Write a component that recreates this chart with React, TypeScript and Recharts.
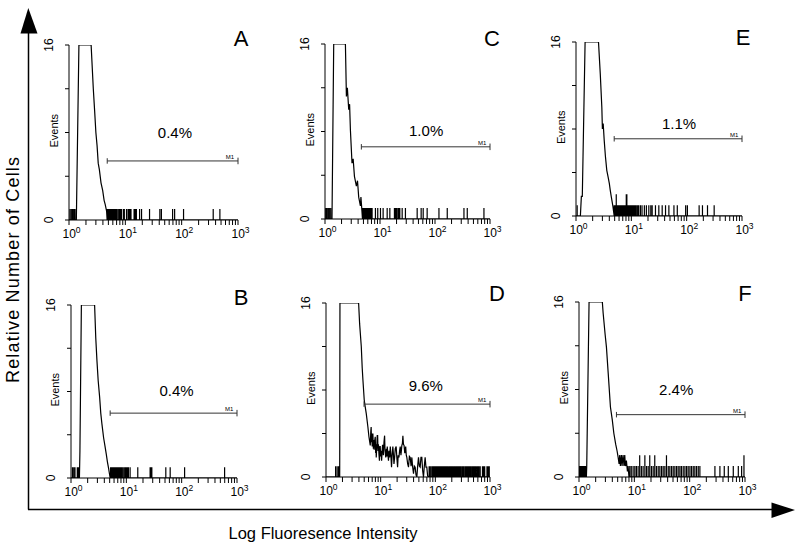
import React from 'react';
import { ComposedChart, Line, XAxis, YAxis, ReferenceLine, ReferenceDot } from 'recharts';

type Pt = [number, number];

// ---- axis ticks ----
const X_TICKS = [1, 2, 3, 4, 5, 6, 7, 8, 9, 10, 20, 30, 40, 50, 60, 70, 80, 90, 100, 200, 300, 400, 500, 600, 700, 800, 900, 1000];
const X_LABELED = [1, 10, 100, 1000];
const Y_TICKS = [0, 4, 8, 12, 16];
const Y_LABELED = [0, 16];

// ---- panel annotations ----
const LETTERS = ['A', 'B', 'C', 'D', 'E', 'F'];
const PERCENTS = ['0.4%', '0.4%', '1.0%', '9.6%', '1.1%', '2.4%'];
const PCT_X = [76, 81, 69, 67, 73, 57];
const PCT_Y = [7.95, 8.1, 8.1, 8.4, 8.5, 7.95];
const GATE_START = [4.77, 5.1, 4.58, 4.96, 4.9, 4.75];
const GATE_LEVEL = [5.4, 6.0, 6.6, 6.7, 7.1, 5.7];

// ---- histogram data: pre-peak events, main peak outline, tail events ----
const preA: Pt[] = [[1.04, 1], [1.1, 1], [1.16, 1], [1.22, 1], [1.28, 1]];
const peakA: Pt[] = [[1.35, 0], [1.5, 16], [2.47, 16], [2.7, 12], [2.85, 10], [3.0, 8], [3.15, 6.8], [3.3, 5.2], [3.46, 4.6], [3.7, 3.4], [3.96, 2.7], [4.2, 1.8], [4.4, 1.4], [4.65, 0.8], [4.75, 0]];
const tailA: Pt[] = [[4.8, 1], [4.95, 1], [5.1, 1], [5.25, 1], [5.45, 1], [5.6, 1], [5.8, 1], [6.0, 1], [6.2, 1], [6.4, 1], [6.7, 1], [7.0, 1], [7.4, 1], [7.8, 1], [8.2, 1], [8.6, 1], [9.3, 1], [9.6, 1], [10.5, 1], [11.2, 1], [11.7, 1], [12.2, 1], [12.6, 1], [14.3, 1], [15.0, 1], [15.7, 1], [17.9, 1], [19.4, 1], [26.9, 1], [41, 1], [43.7, 1], [69, 1], [75, 1], [108, 1], [363, 1], [477, 1]];

const preB: Pt[] = [[1.06, 1], [1.12, 1], [1.18, 1], [1.3, 1], [1.36, 1]];
const peakB: Pt[] = [[1.42, 0], [1.45, 2.5], [1.54, 16], [2.67, 16], [2.8, 13], [2.94, 10.9], [3.1, 9], [3.29, 7.5], [3.45, 6], [3.62, 5], [3.89, 3.7], [4.1, 3], [4.34, 2.2], [4.55, 1.5], [4.78, 0.9], [5.1, 0]];
const tailB: Pt[] = [[5.2, 1], [5.45, 1], [5.7, 1], [5.92, 1], [6.2, 1], [6.44, 1], [6.7, 1], [7.0, 1], [7.3, 1], [7.6, 1], [7.9, 1], [8.26, 1], [8.7, 1], [9.2, 1], [9.7, 1], [10.2, 1], [10.5, 1], [10.9, 1], [11.7, 1], [16.1, 1], [26.9, 1], [28.0, 1], [28.9, 1], [51.7, 1], [62, 1], [113, 1], [597, 1]];

const preC: Pt[] = [[1.03, 1], [1.08, 1], [1.14, 1], [1.2, 1], [1.27, 1]];
const peakC: Pt[] = [[1.34, 0], [1.44, 16], [2.35, 16], [2.45, 11.2], [2.55, 12], [2.7, 10], [2.8, 10.5], [2.9, 8.1], [3.1, 5.1], [3.25, 5.5], [3.43, 3.9], [3.72, 3], [3.9, 3.5], [4.1, 2], [4.4, 1.2], [4.5, 2], [4.7, 0.7], [4.8, 0]];
const tailC: Pt[] = [[4.9, 1], [5.06, 1], [5.25, 1], [5.43, 1], [5.6, 1], [5.82, 1], [6.0, 1], [6.24, 1], [6.45, 1], [6.69, 1], [6.9, 1], [7.18, 1], [8.26, 1], [9.1, 1], [10.2, 1], [11.4, 1], [13.5, 1], [15.1, 1], [18.3, 1], [19.0, 1], [19.9, 1], [21.1, 1], [22.0, 1], [22.9, 1], [25.3, 1], [29, 1], [47.4, 1], [56, 1], [61, 1], [72, 1], [118, 1], [167, 1], [336, 1], [386, 1], [776, 1]];

const preD: Pt[] = [[1.5, 1], [1.6, 1], [1.7, 1]];
const peakD: Pt[] = [[1.78, 0], [1.8, 16], [3.95, 16], [4.12, 14.1], [4.42, 12], [4.6, 10], [4.74, 8.9], [5.0, 7.1], [5.2, 6.5], [5.46, 5.8], [5.84, 4.6], [6.1, 3.7],
  [6.45, 2.9], [6.6, 4.2], [6.7, 4.6], [6.8, 3.2], [6.9, 4.0], [7.0, 2.8], [7.1, 3.6], [7.2, 4.0], [7.35, 2.6], [7.5, 3.4], [7.6, 2.5], [7.75, 3.3], [7.96, 3.7], [8.1, 2.2], [8.2, 3.0], [8.3, 1.8], [8.5, 2.8], [8.65, 3.8], [8.8, 3.8], [8.95, 2.4], [9.1, 3.0], [9.3, 2.1], [9.5, 1.5], [9.65, 2.8], [9.82, 2.8], [10.0, 1.9], [10.2, 2.4], [10.4, 1.5], [10.6, 2.2], [10.8, 2.9], [11.0, 2.9], [11.2, 2.0], [11.5, 3.2], [11.8, 3.8], [12.0, 2.5], [12.2, 2.1], [12.4, 1.8], [12.7, 2.6], [13.0, 1.9], [13.2, 2.8], [13.5, 2.2], [13.9, 1.5], [14.2, 2.4], [14.6, 1.8], [15.0, 2.8], [15.3, 2.2], [15.8, 0.9], [16.2, 2.0], [16.7, 2.8], [17.1, 2.1], [17.5, 1.2], [18.0, 1.8], [18.5, 2.6], [19.2, 2.8], [19.7, 1.9], [20.4, 0.9], [20.9, 2.0], [21.6, 1.8], [22.2, 2.4], [22.8, 2.8], [23.5, 2.0], [24.4, 2.9], [25.0, 3.1], [25.5, 3.8], [26.1, 3.0], [26.8, 2.9], [27.6, 2.2], [28.7, 2.8], [29.4, 2.0], [30.1, 1.8], [31.2, 1.2], [32.3, 0.9], [33.5, 1.9], [34.7, 1.8], [36.0, 1.0], [37.2, 1.8], [38.5, 0.9], [39.9, 0.3], [41.3, 1.0], [42.8, 0.9], [44.3, 0.2], [45.9, 0], [47.5, 1.0], [49.2, 1.8], [51, 1.0], [52.8, 0.9], [54.6, 1.8], [56.6, 1.8], [58.6, 0.6], [60.7, 0], [62.9, 1.0], [65.1, 1.8], [67.4, 0.9], [69.8, 0.9], [72.3, 0.1], [74.9, 0]];
const tailD: Pt[] = [[77, 1], [79, 1], [81, 1], [86, 1], [89, 1], [93, 1], [95, 1], [98, 1], [102, 1], [107, 1], [110, 1], [113, 1], [118, 1], [124, 1], [127, 1], [131, 1], [136, 1], [143, 1], [150, 1], [154, 1], [158, 1], [165, 1], [172, 1], [181, 1], [190, 1], [195, 1], [201, 1], [210, 1], [221, 1], [231, 1], [243, 1], [254, 1], [261, 1], [267, 1], [279, 1], [292, 1], [308, 1], [322, 1], [337, 1], [356, 1], [372, 1], [391, 1], [410, 1], [431, 1], [450, 1], [474, 1], [497, 1], [521, 1], [545, 1], [574, 1], [603, 1], [628, 1], [662, 1], [728, 1], [765, 1], [800, 1], [880, 1], [925, 1], [970, 1]];

const preE: Pt[] = [[1.05, 1]];
const peakE: Pt[] = [[1.2, 0], [1.25, 1.8], [1.3, 1.8], [1.46, 16], [2.55, 16], [2.75, 13], [2.93, 10], [3.0, 8], [3.1, 8.5], [3.23, 7], [3.4, 5.5], [3.6, 4.2], [3.8, 3.6], [4.0, 3], [4.15, 2.4], [4.33, 1.8], [4.64, 0.9], [4.9, 0]];
const tailE: Pt[] = [[4.91, 1], [5.1, 1], [5.34, 2], [5.5, 1], [5.65, 1], [5.9, 1], [6.14, 1], [6.4, 1], [6.67, 1], [6.95, 1], [7.26, 1], [7.6, 1], [7.89, 1], [8.1, 2], [8.3, 2], [8.58, 1], [8.9, 1], [9.33, 1], [9.8, 1], [10.3, 1], [10.8, 1], [11.3, 1], [11.8, 1], [12.3, 1], [13.0, 1], [13.6, 1], [14.6, 1], [15.6, 1], [17.2, 1], [18.7, 1], [20.7, 1], [22.5, 1], [23.8, 1], [27.3, 1], [31.4, 1], [36.1, 1], [41.5, 1], [47.7, 1], [58.9, 1], [67.7, 1], [95.9, 1], [103, 1], [168, 1], [193, 1], [238, 1], [314, 1]];

const preF: Pt[] = [[1.02, 1], [1.06, 1], [1.1, 1], [1.14, 1], [1.18, 1], [1.22, 1], [1.27, 1], [1.31, 1]];
const peakF: Pt[] = [[1.36, 0], [1.38, 1], [1.52, 16], [2.64, 16], [2.73, 15], [2.97, 13], [3.13, 11.9], [3.37, 9.5], [3.7, 6.4], [4.0, 5.2], [4.26, 4], [4.6, 3], [4.87, 2.4], [5.1, 1.8], [5.3, 1.2], [5.45, 2], [5.6, 1], [5.84, 2], [6.0, 1], [6.26, 2], [6.5, 1], [6.71, 2], [6.9, 1], [7.19, 1.5], [7.5, 0.5], [7.71, 1], [8.0, 0]];
const tailF: Pt[] = [[8.27, 1], [8.8, 1], [9.5, 1], [10.2, 1], [10.9, 1], [11.7, 1], [12.5, 2], [13.4, 1], [14.4, 1], [15.5, 2], [16.6, 1], [17.8, 1], [19, 2], [20.4, 1], [21.9, 1], [23.4, 2], [25.1, 1], [27, 1], [28.9, 1], [31, 1], [33.2, 1], [35.6, 1], [38.1, 2], [41, 1], [43.8, 1], [47, 1], [50.4, 1], [54, 1], [57.9, 1], [62, 1], [66.5, 1], [71, 1], [76.4, 1], [82, 1], [87.8, 1], [94, 1], [101, 1], [108, 1], [116, 1], [124, 1], [133, 1], [143, 1], [153, 1], [286, 1], [352, 1], [422, 1], [499, 1], [614, 1], [757, 1], [869, 1], [958, 2]];

const PRE = [preA, preB, preC, preD, preE, preF];
const PEAK = [peakA, peakB, peakC, peakD, peakE, peakF];
const TAIL = [tailA, tailB, tailC, tailD, tailE, tailF];

// ---- layout (plot areas in page pixels) ----
const GEOM = [
  { left: 69, top: 45, w: 169, h: 175, lx: 241, ly: 38 },
  { left: 70.5, top: 305, w: 166, h: 173, lx: 241, ly: 297 },
  { left: 325, top: 44, w: 165, h: 175, lx: 492, ly: 38 },
  { left: 326, top: 303, w: 164, h: 174, lx: 497, ly: 293 },
  { left: 576, top: 42, w: 166, h: 174, lx: 743, ly: 37 },
  { left: 579, top: 302, w: 166, h: 175, lx: 745, ly: 293 },
];

const FONT = '"Liberation Sans", Arial, Helvetica, sans-serif';

function buildSeries(pre: Pt[], peak: Pt[], tail: Pt[]) {
  const out: { x: number; y: number }[] = [{ x: 1, y: 0 }];
  const spike = ([x, n]: Pt) => {
    out.push({ x, y: 0 }, { x, y: n }, { x, y: 0 });
  };
  pre.forEach(spike);
  peak.forEach(([x, y]) => out.push({ x, y }));
  tail.forEach(spike);
  out.push({ x: 1000, y: 0 });
  return out;
}

const XTick = (props: any) => {
  const { x, y, payload } = props;
  const v = payload.value;
  if (!X_LABELED.includes(v)) return <g />;
  const e = Math.round(Math.log10(v));
  return (
    <text x={x - 6.5} y={y + 11} fontSize={12} fontFamily={FONT} fill="#000">
      10<tspan dy={-5} fontSize={8.5}>{e}</tspan>
    </text>
  );
};

const YTick = (props: any) => {
  const { x, y, payload } = props;
  if (!Y_LABELED.includes(payload.value)) return <g />;
  const cx = x - 14.5;
  return (
    <text x={cx} y={y} transform={`rotate(-90 ${cx} ${y})`} textAnchor="middle" dominantBaseline="central" fontSize={12} fontFamily={FONT} fill="#000">
      {payload.value}
    </text>
  );
};

const ML = 45, MT = 12, MR = 15, XH = 30;

function Panel({ i }: { i: number }) {
  const g = GEOM[i];
  const data = buildSeries(PRE[i], PEAK[i], TAIL[i]);
  const lvl = GATE_LEVEL[i];
  const gs = GATE_START[i];
  return (
    <div style={{ position: 'absolute', left: g.left - ML, top: g.top - MT }}>
      <ComposedChart width={g.w + ML + MR} height={g.h + MT + XH} data={data} margin={{ top: MT, right: MR, bottom: 0, left: 0 }}>
        <XAxis
          dataKey="x"
          type="number"
          scale="log"
          domain={[1, 1000]}
          allowDataOverflow
          ticks={X_TICKS}
          interval={0}
          tickSize={5}
          height={XH}
          stroke="#000"
          tickLine={{ stroke: '#000' }}
          tick={<XTick />}
        />
        <YAxis
          type="number"
          domain={[0, 16]}
          allowDataOverflow
          ticks={Y_TICKS}
          interval={0}
          width={ML}
          tickSize={4}
          stroke="#000"
          tickLine={{ stroke: '#000' }}
          tick={<YTick />}
        />
        <Line dataKey="y" type="linear" stroke="#000" strokeWidth={1.2} dot={false} activeDot={false} isAnimationActive={false} />
        <ReferenceLine segment={[{ x: gs, y: lvl }, { x: 1000, y: lvl }]} stroke="#333" strokeWidth={1} />
        <ReferenceLine segment={[{ x: gs, y: lvl - 0.25 }, { x: gs, y: lvl + 0.25 }]} stroke="#333" strokeWidth={1} />
        <ReferenceLine segment={[{ x: 1000, y: lvl - 0.3 }, { x: 1000, y: lvl + 0.3 }]} stroke="#333" strokeWidth={1} />
        <ReferenceDot x={720} y={lvl} r={0} fill="none" stroke="none" label={{ value: 'M1', position: 'top', offset: 2, fontSize: 6, fontFamily: FONT, fill: '#000' }} />
        <ReferenceDot x={PCT_X[i]} y={PCT_Y[i]} r={0} fill="none" stroke="none" label={{ value: PERCENTS[i], position: 'center', fontSize: 15, fontFamily: FONT, fill: '#000' }} />
      </ComposedChart>
    </div>
  );
}

export default function App() {
  return (
    <div style={{ position: 'absolute', left: 0, top: 0, width: 800, height: 547, background: '#fff', overflow: 'hidden' }}>
      {GEOM.map((_, i) => (
        <Panel key={i} i={i} />
      ))}
      <svg width={800} height={547} style={{ position: 'absolute', left: 0, top: 0, pointerEvents: 'none' }}>
        <line x1={28.5} y1={30} x2={28.5} y2={509.5} stroke="#000" strokeWidth={1.5} />
        <polygon points="28.3,8 20.5,33.5 37.5,33.5" fill="#000" />
        <line x1={28} y1={509.5} x2={775} y2={509.5} stroke="#000" strokeWidth={1.5} />
        <polygon points="795,510 771.5,502.5 771.5,518" fill="#000" />
        <text x={12.5} y={270} transform="rotate(-90 12.5 270)" textAnchor="middle" dominantBaseline="central" fontSize={18} textLength={226} lengthAdjust="spacing" fontFamily={FONT} fill="#000">
          Relative Number of Cells
        </text>
        <text x={323} y={533} textAnchor="middle" dominantBaseline="central" fontSize={16.5} fontFamily={FONT} fill="#000">
          Log Fluoresence Intensity
        </text>
        {GEOM.map((g, i) => (
          <g key={i}>
            <text x={g.left - 15} y={g.top + g.h * 0.49} transform={`rotate(-90 ${g.left - 15} ${g.top + g.h * 0.49})`} textAnchor="middle" dominantBaseline="central" fontSize={11} fontFamily={FONT} fill="#000">
              Events
            </text>
            <text x={g.lx} y={g.ly} textAnchor="middle" dominantBaseline="central" fontSize={22} fontFamily={FONT} fill="#000">
              {LETTERS[i]}
            </text>
          </g>
        ))}
      </svg>
    </div>
  );
}
